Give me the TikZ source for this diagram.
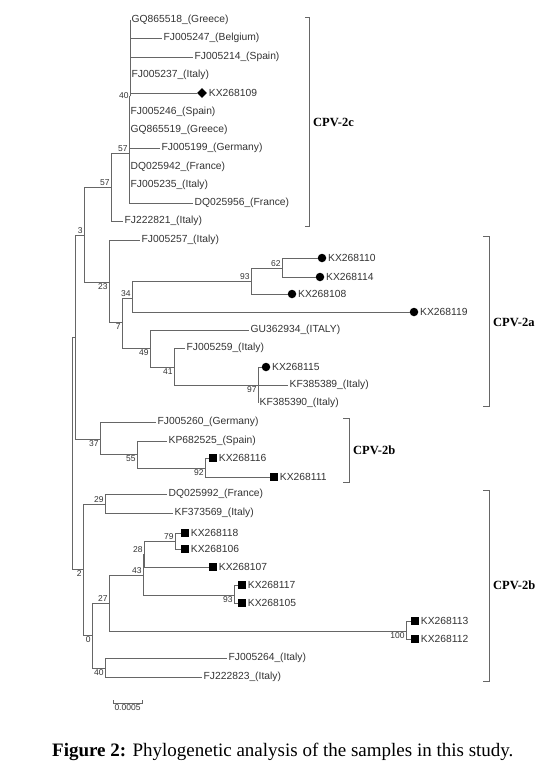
\documentclass[tikz,border=0pt]{standalone}
\usepackage{fontspec}
\setmainfont{Liberation Serif}
\setsansfont{Liberation Sans}
\usetikzlibrary{shapes.geometric,calc}

\begin{document}
\begin{tikzpicture}[x=1pt, y=-1pt,
  branch/.style = {draw=black!60, line width=0.8pt},
  tip/.style    = {anchor=west, inner sep=1.5pt, text=black!80,
    font=\sffamily\fontsize{10.3}{11}\selectfont},
  boot/.style   = {inner sep=1.2pt, text=black!80,
    font=\sffamily\fontsize{8.5}{9}\selectfont},
  dot/.style    = {circle, fill=black, inner sep=0pt, minimum size=8.5pt},
  sq/.style     = {rectangle, fill=black, inner sep=0pt, minimum size=8pt},
  dia/.style    = {diamond, fill=black, inner sep=0pt, minimum size=10pt},
  clade/.style  = {anchor=west, inner sep=1pt,
    font=\bfseries\fontsize{12.5}{14}\selectfont},
  bracket/.style = {draw=black!60, line width=0.9pt}]

\useasboundingbox[fill=white] (0,0) rectangle (551,769);

% internal nodes
\coordinate (nR)   at (72,453);
\coordinate (nA)   at (75,337);
\coordinate (n3)   at (84,235);
\coordinate (n57o) at (111,187);
\coordinate (n57i) at (129,153);
\coordinate (n40a) at (130,96);
\coordinate (n23)  at (109,282);
\coordinate (n7)   at (122,322);
\coordinate (n34)  at (132,298);
\coordinate (n93a) at (251,281);
\coordinate (n62)  at (282,268);
\coordinate (n49)  at (150,348);
\coordinate (n41)  at (174,367);
\coordinate (n97)  at (258,385);
\coordinate (n37)  at (100,439);
\coordinate (n55)  at (137,454);
\coordinate (n92)  at (205,468);
\coordinate (n2)   at (83,569);
\coordinate (n29)  at (105,504);
\coordinate (n0)   at (92,635);
\coordinate (n27)  at (109,603);
\coordinate (n43)  at (143,575);
\coordinate (n28)  at (144,554);
\coordinate (n79)  at (175,541);
\coordinate (n93b) at (234,595);
\coordinate (n100) at (406,631);
\coordinate (n40b) at (105,668);

% CPV-2c tips
\node[tip] (t518) at (130,20)  {GQ865518\_(Greece)};
\node[tip] (t247) at (162,38)  {FJ005247\_(Belgium)};
\node[tip] (t214) at (193,57)  {FJ005214\_(Spain)};
\node[tip] (t237) at (130,75)  {FJ005237\_(Italy)};
\node[dia] (m109) at (202,93)  {};
\node[tip] (t109) at (m109.east) {KX268109};
\node[tip] (t246) at (129,112) {FJ005246\_(Spain)};
\node[tip] (t519) at (129,130) {GQ865519\_(Greece)};
\node[tip] (t199) at (160,148) {FJ005199\_(Germany)};
\node[tip] (t942) at (129,167) {DQ025942\_(France)};
\node[tip] (t235) at (129,185) {FJ005235\_(Italy)};
\node[tip] (t956) at (193,203) {DQ025956\_(France)};
\node[tip] (t821) at (123,221) {FJ222821\_(Italy)};

% CPV-2a tips
\node[tip] (t257) at (140,240) {FJ005257\_(Italy)};
\node[dot] (m110) at (322,258) {};
\node[tip] (t110) at (m110.east) {KX268110};
\node[dot] (m114) at (320,277) {};
\node[tip] (t114) at (m114.east) {KX268114};
\node[dot] (m108) at (292,294) {};
\node[tip] (t108) at (m108.east) {KX268108};
\node[dot] (m119) at (414,312) {};
\node[tip] (t119) at (m119.east) {KX268119};
\node[tip] (t934) at (249,330) {GU362934\_(ITALY)};
\node[tip] (t259) at (185,348) {FJ005259\_(Italy)};
\node[dot] (m115) at (266,367) {};
\node[tip] (t115) at (m115.east) {KX268115};
\node[tip] (t389) at (288,385) {KF385389\_(Italy)};
\node[tip] (t390) at (258,403) {KF385390\_(Italy)};

% CPV-2b tips
\node[tip] (t260) at (156,422) {FJ005260\_(Germany)};
\node[tip] (t525) at (167,441) {KP682525\_(Spain)};
\node[sq]  (m116) at (213,458) {};
\node[tip] (t116) at (m116.east) {KX268116};
\node[sq]  (m111) at (274,477) {};
\node[tip] (t111) at (m111.east) {KX268111};
\node[tip] (t992) at (167,494) {DQ025992\_(France)};
\node[tip] (t569) at (173,513) {KF373569\_(Italy)};
\node[sq]  (m118) at (185,533) {};
\node[tip] (t118) at (m118.east) {KX268118};
\node[sq]  (m106) at (185,549) {};
\node[tip] (t106) at (m106.east) {KX268106};
\node[sq]  (m107) at (213,567) {};
\node[tip] (t107) at (m107.east) {KX268107};
\node[sq]  (m117) at (242,585) {};
\node[tip] (t117) at (m117.east) {KX268117};
\node[sq]  (m105) at (242,603) {};
\node[tip] (t105) at (m105.east) {KX268105};
\node[sq]  (m113) at (415,621) {};
\node[tip] (t113) at (m113.east) {KX268113};
\node[sq]  (m112) at (415,639) {};
\node[tip] (t112) at (m112.east) {KX268112};
\node[tip] (t264) at (227,658) {FJ005264\_(Italy)};
\node[tip] (t823) at (202,677) {FJ222823\_(Italy)};

% branches
\foreach \p/\c in {nR/nA, nR/n2, nA/n3, nA/n37, n3/n57o, n3/n23,
    n57o/n57i, n57o/t821, n57i/n40a,
    n23/t257, n23/n7, n7/n34, n7/n49, n34/n93a, n34/m119,
    n93a/n62, n93a/m108, n62/m110, n62/m114,
    n49/t934, n49/n41, n41/t259, n41/n97,
    n97/m115, n97/t389, n97/t390,
    n37/t260, n37/n55, n55/t525, n55/n92, n92/m116, n92/m111,
    n2/n29, n2/n0, n29/t992, n29/t569, n0/n27, n0/n40b,
    n27/n43, n27/n100, n43/n28, n43/n93b, n28/n79, n28/m107,
    n79/m118, n79/m106, n93b/m117, n93b/m105,
    n100/m113, n100/m112, n40b/t264, n40b/t823}
  \draw[branch] (\p) |- (\c);
\foreach \c in {t518, t247, t214, t237, m109}
  \draw[branch] (n40a) |- (\c);
\foreach \c in {t246, t519, t199, t942, t235, t956}
  \draw[branch] (n57i) |- (\c);

% bootstrap values
\node[boot, above left] (b3)   at (n3)   {3};
\node[boot, above left] (b57o) at (n57o) {57};
\node[boot, above left] (b57i) at (n57i) {57};
\node[boot, left]       (b40a) at (n40a) {40};
\node[boot, below left] (b23)  at (n23)  {23};
\node[boot, above left] (b34)  at (n34)  {34};
\node[boot, below left] (b7)   at (n7)   {7};
\node[boot, above left] (b93a) at (n93a) {93};
\node[boot, above left] (b62)  at (n62)  {62};
\node[boot, below left] (b49)  at (n49)  {49};
\node[boot, below left] (b41)  at (n41)  {41};
\node[boot, below left] (b97)  at (n97)  {97};
\node[boot, below left] (b37)  at (n37)  {37};
\node[boot, below left] (b55)  at (n55)  {55};
\node[boot, below left] (b92)  at (n92)  {92};
\node[boot, above left] (b29)  at (n29)  {29};
\node[boot, below left] (b2)   at (n2)   {2};
\node[boot, below left] (b0)   at (n0)   {0};
\node[boot, above left] (b27)  at (n27)  {27};
\node[boot, above left] (b43)  at (n43)  {43};
\node[boot, above left] (b28)  at (n28)  {28};
\node[boot, above left] (b79)  at (n79)  {79};
\node[boot, below left] (b93b) at (n93b) {93};
\node[boot, below left] (b100) at (n100) {100};
\node[boot, below left] (b40b) at (n40b) {40};

% clade brackets
\draw[bracket] (305,17) -| (309,226) -- (305,226);
\node[clade] (c2c) at (312,122) {CPV-2c};
\draw[bracket] (483,236) -| (489,406) -- (483,406);
\node[clade] (c2a) at (492,322) {CPV-2a};
\draw[bracket] (343,418) -| (349,482) -- (343,482);
\node[clade] (c2b) at (352,450) {CPV-2b};
\draw[bracket] (483,490) -| (489,681) -- (483,681);
\node[clade] (c2d) at (492,585) {CPV-2b};

% scale bar
\coordinate (sb1) at (113,703);
\coordinate (sb2) at (142,703);
\draw[branch] (sb1) ++(0,-3) -- (sb1) -- (sb2) -- ++(0,-3);
\node[boot, below, font=\sffamily\fontsize{8.5}{9}\selectfont] (sbl)
  at ($(sb1)!0.5!(sb2)$) {0.0005};

% caption
\node[anchor=west, inner sep=0pt, font=\fontsize{19}{22}\selectfont] (cap)
  at (52,752) {\textbf{Figure 2:} Phylogenetic analysis of the samples in this study.};
\end{tikzpicture}
\end{document}
